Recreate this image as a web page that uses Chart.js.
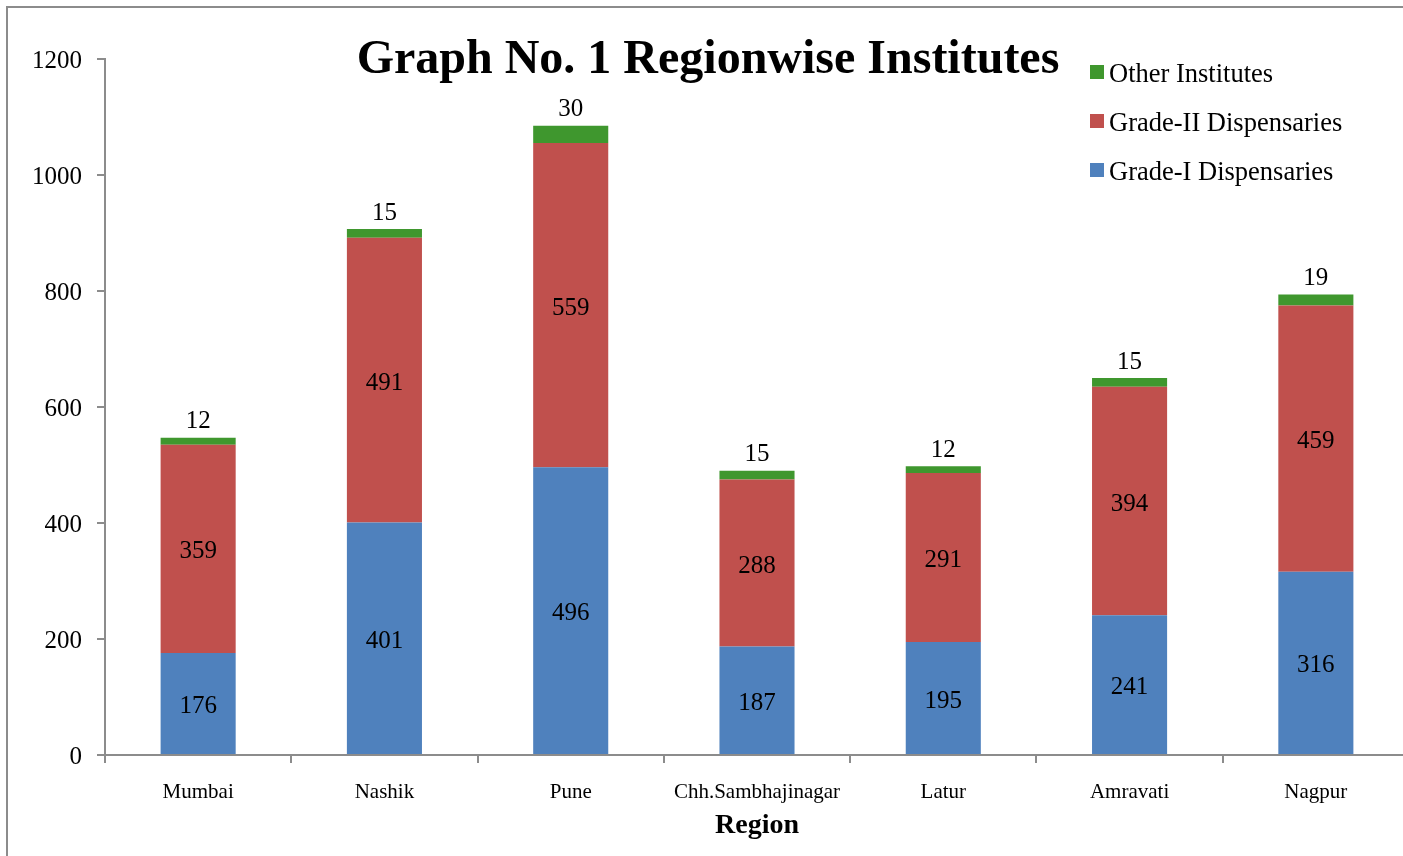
<!DOCTYPE html>
<html>
<head>
<meta charset="utf-8">
<script src="https://cdn.jsdelivr.net/npm/chart.js@4.4.1/dist/chart.umd.min.js"></script>
<style>
  html, body { margin: 0; padding: 0; background: #fff; overflow: hidden; }
  body { width: 1403px; height: 856px; position: relative; }
  #wrap { position: absolute; left: 0; top: 0; width: 1414px; height: 856px; }
  #frame { position: absolute; left: 6px; top: 6px; width: 1500px; height: 1000px;
           border-left: 2px solid #8c8c8c; border-top: 2px solid #8c8c8c; pointer-events: none; }
  #title { position: absolute; left: 708px; top: 57px; transform: translate(-50%, -50%);
           font-family: 'Liberation Serif', 'Times New Roman', serif; font-weight: bold;
           font-size: 48px; line-height: 1; white-space: nowrap; color: #000; }
  #legend { position: absolute; left: 1090px; top: 50px; font-family: 'Liberation Serif', serif;
            font-size: 26.5px; color: #000; }
  .li { position: absolute; left: 0; height: 30px; white-space: nowrap; }
  .sw { position: absolute; left: 0; width: 14px; height: 14px; }
  .lt { position: absolute; left: 19px; line-height: 30px; top: 0; }
</style>
</head>
<body>
<div id="wrap"><canvas id="c" width="1414" height="856"></canvas></div>
<div id="frame"></div>
<div id="title">Graph No. 1 Regionwise Institutes</div>
<div id="legend"></div>
<script>
const categories = ['Mumbai', 'Nashik', 'Pune', 'Chh.Sambhajinagar', 'Latur', 'Amravati', 'Nagpur'];
const gradeI = [176, 401, 496, 187, 195, 241, 316];
const gradeII = [359, 491, 559, 288, 291, 394, 459];
const others = [12, 15, 30, 15, 12, 15, 19];
const seriesNames = ['Grade-I Dispensaries', 'Grade-II Dispensaries', 'Other Institutes'];
const seriesColors = ['#4F81BD', '#C0504D', '#3F972E'];
const yTicks = [0, 200, 400, 600, 800, 1000, 1200];

const FONT = "'Liberation Serif', 'Times New Roman', serif";

// HTML legend (reverse order, as in reference)
const legendEl = document.getElementById('legend');
[2, 1, 0].forEach((idx, i) => {
  const item = document.createElement('div');
  item.className = 'li';
  item.style.top = (i * 49) + 'px';
  const sw = document.createElement('div');
  sw.className = 'sw';
  sw.style.background = seriesColors[idx];
  sw.style.top = '15px';
  const t = document.createElement('div');
  t.className = 'lt';
  t.style.top = '8px';
  t.textContent = seriesNames[idx];
  item.appendChild(sw); item.appendChild(t);
  legendEl.appendChild(item);
});

const labelPlugin = {
  id: 'valueLabels',
  afterDatasetsDraw(chart) {
    const ctx = chart.ctx;
    ctx.save();
    ctx.font = '25px ' + FONT;
    ctx.fillStyle = '#000';
    ctx.textAlign = 'center';
    ctx.textBaseline = 'middle';
    chart.data.datasets.forEach((ds, di) => {
      const meta = chart.getDatasetMeta(di);
      meta.data.forEach((el, i) => {
        const v = ds.data[i];
        if (di === 2) {
          ctx.fillText(String(v), el.x, el.y - 16);
        } else {
          ctx.fillText(String(v), el.x, (el.y + el.base) / 2 + 3);
        }
      });
    });
    ctx.restore();
  }
};

const axisColor = '#8c8c8c';

new Chart(document.getElementById('c'), {
  type: 'bar',
  data: {
    labels: categories,
    datasets: [
      { label: seriesNames[0], data: gradeI, backgroundColor: seriesColors[0], borderWidth: 0 },
      { label: seriesNames[1], data: gradeII, backgroundColor: seriesColors[1], borderWidth: 0 },
      { label: seriesNames[2], data: others, backgroundColor: seriesColors[2], borderWidth: 0 }
    ]
  },
  options: {
    responsive: false,
    animation: false,
    events: [],
    layout: { padding: { left: 0, right: 5, top: 59, bottom: 0 } },
    datasets: { bar: { categoryPercentage: 1.0, barPercentage: 0.403 } },
    plugins: {
      legend: { display: false },
      title: { display: false },
      tooltip: { enabled: false }
    },
    scales: {
      x: {
        stacked: true,
        offset: true,
        grid: { display: true, drawOnChartArea: false, drawTicks: true, tickLength: 8, offset: true, color: axisColor, lineWidth: 2 },
        border: { display: true, color: axisColor, width: 2 },
        ticks: { color: '#000', font: { family: FONT, size: 21 }, padding: 17, maxRotation: 0, autoSkip: false },
        title: { display: true, text: 'Region', color: '#000', font: { family: FONT, size: 28, weight: 'bold' }, padding: { top: 0, bottom: 13 } },
        afterFit(scale) { scale.height = 101; }
      },
      y: {
        stacked: true,
        min: 0,
        max: 1200,
        afterBuildTicks(scale) { scale.ticks = yTicks.map(v => ({ value: v })); },
        grid: { display: true, drawOnChartArea: false, drawTicks: true, tickLength: 8, color: axisColor, lineWidth: 2 },
        border: { display: true, color: axisColor, width: 2 },
        ticks: { color: '#000', font: { family: FONT, size: 25 }, padding: 15, labelOffset: 2, callback: (v) => String(v) },
        afterFit(scale) { scale.width = 105; }
      }
    }
  },
  plugins: [labelPlugin]
});
</script>
</body>
</html>
